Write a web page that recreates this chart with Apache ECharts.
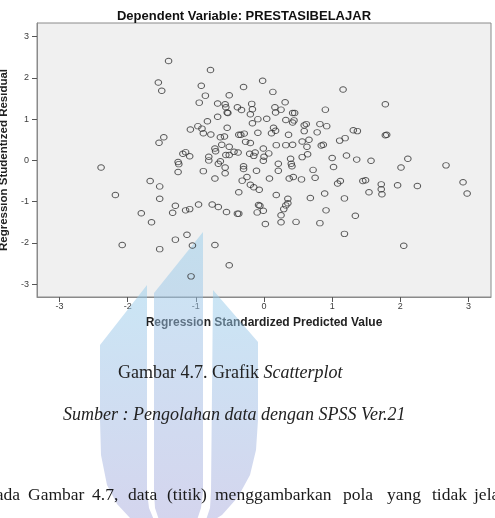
<!DOCTYPE html>
<html>
<head>
<meta charset="utf-8">
<style>
  html, body { margin: 0; padding: 0; background: #fff; }
  #chart { width: 495px; height: 518px; }
</style>
<script src="https://cdn.jsdelivr.net/npm/echarts@6/dist/echarts.min.js"></script>
</head>
<body>
<div id="chart"></div>
<script>
// Regression Standardized Predicted Value (x) / Regression Studentized Residual (y)
var predicted = [
  -1.40, -0.785, -1.55, -1.50, -0.92, -0.02, -0.30, 0.13, 1.16, -0.86,
  -0.51, -0.95, -0.68, -0.57, -0.18, 0.31, 1.78, -0.56, -0.39, -0.33,
  -0.17, 0.16, 0.25, -0.54, -0.53, -0.20, 0.17, 0.42, 0.45, 0.90,
  -0.68, -0.83, -0.09, 0.04, 0.32, 0.44, 0.42, -0.17, 0.62, 0.59,
  0.82, 0.92, -0.97, -0.91, -1.08, -0.54, 0.14, 0.17, 1.31, 1.37,
  -0.89, -0.09, 0.11, 0.59, 0.78, -0.78, -0.37, -0.34, -0.29, 1.78,
  1.80, 0.36, -1.47, -1.54, -0.64, -0.58, 1.19, 1.11, -0.27, -0.20,
  0.56, 0.66, -0.62, 0.18, 0.32, 0.42, 0.84, 0.87, -0.51, 0.63,
  -0.72, -0.01, -0.71, -0.44, -0.38, -0.13, 0.07, -1.15, -1.19, -1.09,
  -0.81, -0.56, -0.51, -0.21, -0.15, 0.00, 0.64, 0.56, 1.21, 1.00,
  2.11, -0.81, 0.39, 1.36, 1.57, -1.26, -1.25, -0.64, -0.67, 0.21,
  0.40, -2.39, 2.67, 2.01, 1.02, -0.30, 0.41, -0.57, -0.01,
  -1.26, -0.89, -0.57, -0.30, -0.11, 0.21, 0.72, -1.67, -1.53, -0.72,
  -0.25, -0.32, 0.08, 0.37, 0.43, 0.55, 0.75, 1.08, 1.12, 1.45,
  1.49, 1.72, 1.96, 2.25, 2.92, -0.20, -0.15, -0.07, -0.37, 1.72,
  1.73, 1.54, 0.89, 2.98, -2.18, 0.18, -1.53, 0.35, 0.68, 1.18,
  -1.30, -0.96, -0.76, -0.67, -0.08, -0.06, 0.35, 0.32, -1.80, -1.34,
  -1.15, -1.09, -0.55, -0.39, -0.37, -0.10, -0.01, 0.29, 0.25, 0.91,
  1.34, -1.65, 0.02, 0.25, 0.47, 0.82, -1.13, 1.18, -1.30, -2.08,
  -1.05, -0.72, -1.53, 2.05, -0.51, -1.07
];
var residual = [
  2.41, 2.19, 1.89, 1.69, 1.81, 1.93, 1.78, 1.66, 1.72, 1.57,
  1.58, 1.40, 1.38, 1.36, 1.37, 1.41, 1.36, 1.29, 1.29, 1.22,
  1.24, 1.29, 1.23, 1.16, 1.15, 1.12, 1.16, 1.15, 1.15, 1.23,
  1.06, 0.95, 1.00, 1.01, 0.98, 0.97, 0.92, 0.90, 0.88, 0.85,
  0.88, 0.83, 0.83, 0.77, 0.75, 0.79, 0.79, 0.72, 0.73, 0.71,
  0.66, 0.67, 0.66, 0.71, 0.68, 0.63, 0.62, 0.62, 0.65, 0.61,
  0.62, 0.62, 0.56, 0.43, 0.56, 0.58, 0.54, 0.48, 0.45, 0.42,
  0.46, 0.50, 0.38, 0.37, 0.37, 0.38, 0.36, 0.38, 0.33, 0.33,
  0.29, 0.29, 0.22, 0.21, 0.19, 0.19, 0.17, 0.20, 0.16, 0.10,
  0.09, 0.13, 0.13, 0.16, 0.11, 0.09, 0.15, 0.08, 0.12, 0.06,
  0.04, 0.00, 0.04, 0.02, -0.01, -0.04, -0.09, -0.02, -0.08, -0.08,
  -0.08, -0.17, -0.12, -0.17, -0.16, -0.14, -0.14, -0.17, -0.01,
  -0.28, -0.26, -0.31, -0.21, -0.25, -0.25, -0.23, -0.50, -0.63, -0.44,
  -0.40, -0.49, -0.44, -0.44, -0.40, -0.46, -0.42, -0.56, -0.50, -0.50,
  -0.48, -0.58, -0.60, -0.62, -0.53, -0.59, -0.65, -0.71, -0.77, -0.70,
  -0.82, -0.77, -0.80, -0.80, -0.84, -0.84, -0.93, -0.93, -0.91, -0.92,
  -1.10, -1.07, -1.07, -1.13, -1.08, -1.10, -1.04, -1.09, -1.28, -1.27,
  -1.21, -1.18, -1.25, -1.29, -1.29, -1.26, -1.22, -1.18, -1.33, -1.21,
  -1.34, -1.50, -1.54, -1.50, -1.49, -1.52, -1.80, -1.78, -1.92, -2.05,
  -2.06, -2.05, -2.15, -2.07, -2.54, -2.81
];
var tickValues = [-3, -2, -1, 0, 1, 2, 3];
var paragraphWords = ['Pada', 'Gambar', '4.7,', 'data', '(titik)', 'menggambarkan', 'pola', 'yang', 'tidak', 'jelas'];
var wordStarts = [-14, 28, 92, 128, 167, 215, 343, 387, 432, 474];

var points = predicted.map(function (x, i) { return [x, residual[i]]; });

var chart = echarts.init(document.getElementById('chart'));

var labelStyle = { fontFamily: 'Liberation Sans', fontSize: 9, color: '#3c3c3c' };

// watermark (logo) behind the figure
var logoFill = new echarts.graphic.LinearGradient(0, 0, 0, 1, [
  { offset: 0, color: 'rgba(150,205,235,0.5)' },
  { offset: 1, color: 'rgba(170,170,220,0.5)' }
]);
var logoShapes = [
  [[100,345],[147,285],[147,492],[149,508],[154,520],[160,530],[145,526],[130,518],[117,504],[107,485],[101,455],[100,420]],
  [[154,293],[203,232],[203,492],[201,508],[197,520],[192,530],[166,530],[159,520],[155,508],[154,492]],
  [[213,290],[258,342],[258,420],[256,450],[250,475],[238,497],[222,515],[198,530],[206,520],[210,508],[211,492]]
];
var logo = logoShapes.map(function (pts) {
  return { type: 'polygon', z: 1, silent: true, shape: { points: pts }, style: { fill: logoFill } };
});

var texts = [
  {
    type: 'text', left: 118, top: 364, z: 3,
    style: {
      text: '{a|Gambar 4.7. Grafik }{b|Scatterplot}',
      rich: {
        a: { fontFamily: 'Liberation Serif', fontSize: 18, fill: '#222' },
        b: { fontFamily: 'Liberation Serif', fontSize: 18, fontStyle: 'italic', fill: '#222' }
      }
    }
  },
  {
    type: 'text', left: 63, top: 406, z: 3,
    style: {
      text: 'Sumber : Pengolahan data dengan SPSS Ver.21',
      fontFamily: 'Liberation Serif', fontSize: 18, fontStyle: 'italic', fill: '#222'
    }
  }
];
paragraphWords.forEach(function (w, i) {
  texts.push({
    type: 'text', x: wordStarts[i], y: 495, z: 3,
    style: { text: w, fontFamily: 'Liberation Serif', fontSize: 17.5, fill: '#1a1a1a', verticalAlign: 'middle' }
  });
});

chart.setOption({
  animation: false,
  backgroundColor: '#fff',
  title: {
    text: 'Dependent Variable: PRESTASIBELAJAR',
    left: 239, top: 5, textAlign: 'center',
    textStyle: { fontFamily: 'Liberation Sans', fontSize: 13, fontWeight: 'bold', color: '#111' }
  },
  grid: {
    left: 37, top: 23, width: 454, height: 274,
    outerBoundsMode: 'none', containLabel: false,
    show: true, backgroundColor: '#f0f0f0', borderColor: '#8a8a8a', borderWidth: 1
  },
  xAxis: {
    type: 'value', min: -3.33, max: 3.33,
    name: 'Regression Standardized Predicted Value',
    nameLocation: 'middle', nameGap: 20,
    nameTextStyle: { fontFamily: 'Liberation Sans', fontSize: 12, fontWeight: 'bold', color: '#222' },
    axisLine: { show: true, onZero: false, lineStyle: { color: '#8a8a8a' } },
    axisTick: { show: true, length: 5, lineStyle: { color: '#555' }, customValues: tickValues },
    axisLabel: Object.assign({ margin: 5, customValues: tickValues }, labelStyle),
    splitLine: { show: false }
  },
  yAxis: {
    type: 'value', min: -3.31, max: 3.33,
    name: 'Regression Studentized Residual',
    nameLocation: 'middle', nameGap: 23, nameRotate: 90,
    nameTextStyle: { fontFamily: 'Liberation Sans', fontSize: 11.5, fontWeight: 'bold', color: '#222' },
    axisLine: { show: true, onZero: false, lineStyle: { color: '#8a8a8a' } },
    axisTick: { show: true, length: 5, lineStyle: { color: '#555' }, customValues: tickValues },
    axisLabel: Object.assign({ margin: 8, customValues: tickValues }, labelStyle),
    splitLine: { show: false }
  },
  graphic: logo.concat(texts),
  series: [{
    type: 'scatter',
    data: points,
    symbol: 'circle',
    symbolSize: [6.5, 5.5],
    z: 4,
    itemStyle: { color: 'rgba(0,0,0,0)', borderColor: '#333', borderWidth: 1 }
  }]
});
</script>
</body>
</html>
